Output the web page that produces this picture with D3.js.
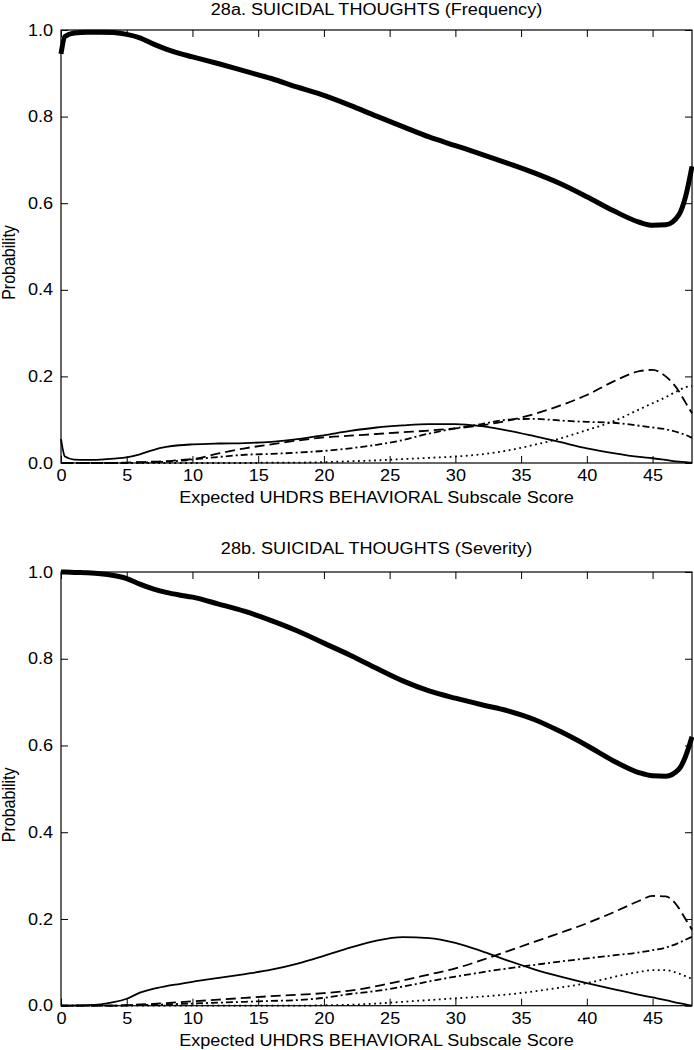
<!DOCTYPE html>
<html lang="en">
<head>
<meta charset="UTF-8">
<title>Suicidal thoughts</title>
<script src="https://d3js.org/d3.v7.min.js"></script>
<style>
  body { margin: 0; background: #fff; }
  text { font-family: "Liberation Sans", Arial, sans-serif; fill: #000; }
</style>
</head>
<body>
<div id="chart"></div>
<script>
// score grid shared by all curves
const scores = [0, 0.3, 1, 2, 3, 4, 5, 6, 7, 8, 9, 10, 12, 14, 16, 18, 20, 22, 24, 26, 28, 30, 32, 34, 36, 38, 40, 42, 44, 45, 46, 47, 47.5, 48];

// 28a frequency
const freq0 = [0.945, 0.985, 0.993, 0.995, 0.995, 0.994, 0.99, 0.982, 0.968, 0.956, 0.946, 0.938, 0.922, 0.905, 0.888, 0.868, 0.849, 0.826, 0.801, 0.777, 0.753, 0.733, 0.713, 0.692, 0.67, 0.645, 0.615, 0.583, 0.556, 0.549, 0.55, 0.573, 0.614, 0.685];
const freq1 = [0.055, 0.015, 0.008, 0.007, 0.008, 0.01, 0.013, 0.02, 0.03, 0.037, 0.041, 0.043, 0.045, 0.046, 0.049, 0.055, 0.064, 0.074, 0.082, 0.087, 0.09, 0.09, 0.085, 0.075, 0.062, 0.048, 0.034, 0.023, 0.014, 0.011, 0.007, 0.003, 0.002, 0.0];
const freq2 = [0, 0, 0, 0, 0, 0, 0.001, 0.002, 0.003, 0.004, 0.007, 0.009, 0.022, 0.034, 0.043, 0.052, 0.059, 0.063, 0.067, 0.071, 0.075, 0.08, 0.087, 0.098, 0.113, 0.133, 0.157, 0.188, 0.212, 0.215, 0.2, 0.166, 0.14, 0.115];
const freq3 = [0, 0, 0, 0, 0, 0, 0, 0.001, 0.002, 0.003, 0.005, 0.008, 0.014, 0.019, 0.021, 0.024, 0.028, 0.034, 0.042, 0.053, 0.068, 0.08, 0.09, 0.1, 0.102, 0.098, 0.095, 0.093, 0.086, 0.082, 0.078, 0.07, 0.065, 0.058];
const freq4 = [0, 0, 0, 0, 0, 0, 0, 0, 0, 0, 0, 0, 0, 0, 0.001, 0.001, 0.002, 0.004, 0.006, 0.009, 0.012, 0.015, 0.02, 0.029, 0.042, 0.057, 0.076, 0.096, 0.124, 0.138, 0.152, 0.168, 0.175, 0.178];

// 28b severity
const sev0 = [1.0, 1.0, 0.999, 0.998, 0.996, 0.992, 0.985, 0.972, 0.961, 0.953, 0.947, 0.942, 0.926, 0.909, 0.888, 0.864, 0.836, 0.808, 0.778, 0.749, 0.726, 0.709, 0.694, 0.68, 0.66, 0.632, 0.6, 0.565, 0.537, 0.53, 0.529, 0.545, 0.574, 0.62];
const sev1 = [0, 0, 0.0005, 0.001, 0.003, 0.008, 0.016, 0.03, 0.039, 0.045, 0.05, 0.055, 0.064, 0.073, 0.083, 0.097, 0.115, 0.134, 0.15, 0.158, 0.156, 0.145, 0.126, 0.104, 0.084, 0.067, 0.052, 0.038, 0.025, 0.019, 0.013, 0.006, 0.003, 0];
const sev2 = [0, 0, 0, 0, 0, 0, 0.001, 0.003, 0.004, 0.006, 0.008, 0.01, 0.014, 0.018, 0.022, 0.025, 0.029, 0.035, 0.045, 0.058, 0.072, 0.086, 0.105, 0.126, 0.147, 0.168, 0.19, 0.215, 0.242, 0.253, 0.252, 0.225, 0.2, 0.175];
const sev3 = [0, 0, 0, 0, 0, 0, 0.001, 0.002, 0.002, 0.003, 0.004, 0.005, 0.007, 0.009, 0.011, 0.013, 0.018, 0.027, 0.034, 0.044, 0.056, 0.067, 0.077, 0.086, 0.094, 0.102, 0.109, 0.116, 0.123, 0.128, 0.134, 0.145, 0.152, 0.159];
const sev4 = [0, 0, 0, 0, 0, 0, 0, 0, 0, 0, 0, 0, 0, 0, 0, 0, 0.001, 0.002, 0.005, 0.009, 0.013, 0.017, 0.021, 0.026, 0.033, 0.042, 0.052, 0.066, 0.078, 0.082, 0.082, 0.074, 0.068, 0.062];

const xTicks = [0, 5, 10, 15, 20, 25, 30, 35, 40, 45];
const yTicks = [0, 0.2, 0.4, 0.6, 0.8, 1.0];

const titles = ["28a. SUICIDAL THOUGHTS (Frequency)", "28b. SUICIDAL THOUGHTS (Severity)"];
const xLabel = "Expected UHDRS BEHAVIORAL Subscale Score";
const yLabel = "Probability";

// line looks: thick solid, thin solid, dashed, dash-dot, dotted
const styles = [
  { w: 5, dash: null },
  { w: 1.8, dash: null },
  { w: 1.8, dash: "10,5" },
  { w: 1.8, dash: "7,3,2,3" },
  { w: 1.8, dash: "1.8,3.6" }
];

const W = 694, H = 1050;
const stretch = 1.13; // text in the picture is a bit wide

const svg = d3.select("#chart").append("svg")
  .attr("width", W).attr("height", H);

const x = d3.scaleLinear().domain([0, 48]).range([61, 692]);

function drawPanel(top, bottom, title, series, titleGap) {
  const y = d3.scaleLinear().domain([0, 1]).range([bottom, top]);
  const g = svg.append("g");

  const line = d3.line()
    .x((d, i) => x(scores[i]))
    .y(d => y(d))
    .curve(d3.curveMonotoneX);

  series.forEach((s, k) => {
    g.append("path")
      .datum(s)
      .attr("fill", "none")
      .attr("stroke", "#000")
      .attr("stroke-width", styles[k].w)
      .attr("stroke-dasharray", styles[k].dash)
      .attr("stroke-linejoin", "round")
      .attr("d", line);
  });

  // axes, ticks pointing in
  const fmt = d3.format(".1f");
  const bx = g.append("g").attr("transform", `translate(0,${bottom})`)
    .call(d3.axisBottom(x).tickValues(xTicks).tickSize(-7).tickPadding(7));
  g.append("g").attr("transform", `translate(0,${top})`)
    .call(d3.axisTop(x).tickValues(xTicks).tickSize(-7).tickFormat(""));
  const ly = g.append("g").attr("transform", `translate(${x(0)},0)`)
    .call(d3.axisLeft(y).tickValues(yTicks).tickSize(-7).tickPadding(7).tickFormat(fmt));
  g.append("g").attr("transform", `translate(${x(48)},0)`)
    .call(d3.axisRight(y).tickValues(yTicks).tickSize(-7).tickFormat(""));

  g.selectAll(".domain").remove();
  g.selectAll(".tick line").attr("stroke", "#000").attr("stroke-width", 1);
  g.selectAll(".tick text").style("font-size", "16px").attr("fill", "#000")
    .style("font-family", '"Liberation Sans", Arial, sans-serif');
  bx.selectAll(".tick text").attr("transform", `scale(${stretch},1)`);
  ly.selectAll(".tick text").attr("transform", `scale(${stretch},1)`);

  g.append("rect")
    .attr("x", x(0)).attr("y", top)
    .attr("width", x(48) - x(0)).attr("height", bottom - top)
    .attr("fill", "none").attr("stroke", "#000").attr("stroke-width", 1.2);

  const cx = (x(0) + x(48)) / 2;
  g.append("text")
    .attr("transform", `translate(${cx},${top - titleGap}) scale(${stretch},1)`)
    .attr("text-anchor", "middle").style("font-size", "16px")
    .text(title);

  g.append("text")
    .attr("transform", `translate(${cx},${bottom + 40}) scale(${stretch},1)`)
    .attr("text-anchor", "middle").style("font-size", "16px")
    .text(xLabel);

  g.append("text")
    .attr("transform", `translate(15,${(top + bottom) / 2 + 16}) rotate(-90) scale(1,${stretch})`)
    .attr("text-anchor", "middle").style("font-size", "16px")
    .text(yLabel);
}

drawPanel(30, 463, titles[0], [freq0, freq1, freq2, freq3, freq4], 15);
drawPanel(572, 1005.7, titles[1], [sev0, sev1, sev2, sev3, sev4], 18);
</script>
</body>
</html>
